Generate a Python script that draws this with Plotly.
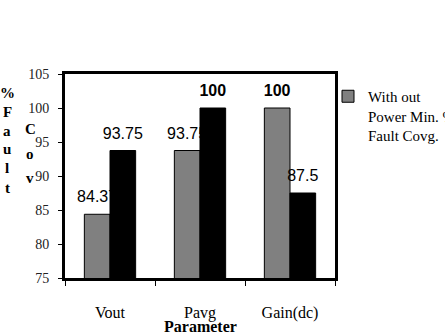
import plotly.graph_objects as go

categories = ["Vout", "Pavg", "Gain(dc)"]
without_pm = [84.37, 93.75, 100]
with_pm = [93.75, 100, 87.5]
series_names = ["With out<br>Power Min. %<br>Fault Covg.", "With Power Min. % Fault Covg."]
y_ticks = [75, 80, 85, 90, 95, 100, 105]

L, R, T, B = 65, 110, 74, 56
W, H = 445, 334
PW, PH = W - L - R, H - T - B

def px_x(px):
    return (px - L) / PW

def px_y(py):
    return (H - B - py) / PH

def lab(v):
    s = f"{v:g}"
    if v == 100:
        s = f"<b>{s}</b>"
    return f"<span style='font-size:16px'>{s}</span><br> "

fig = go.Figure()
fig.add_trace(go.Bar(
    x=categories, y=without_pm, name=series_names[0],
    marker=dict(color="#808080", line=dict(color="#000000", width=1)),
    text=[lab(v) for v in without_pm], textposition="outside",
    constraintext="none", cliponaxis=False,
    textfont=dict(family="Liberation Sans", size=6, color="#000"),
))
fig.add_trace(go.Bar(
    x=categories, y=with_pm, name=series_names[1], showlegend=False,
    marker=dict(color="#000000", line=dict(color="#000000", width=1)),
    text=[lab(v) for v in with_pm], textposition="outside",
    constraintext="none", cliponaxis=False,
    textfont=dict(family="Liberation Sans", size=6, color="#000"),
))

annotations = []
col1 = [("%", 93), ("F", 112), ("a", 131), ("u", 149), ("l", 168), ("t", 188)]
for ch, py in col1:
    annotations.append(dict(text=ch, x=px_x(7), y=px_y(py), xref="paper", yref="paper",
                            showarrow=False, xanchor="center", yanchor="middle",
                            font=dict(family="Liberation Serif", size=15, color="#000"),
                            ))
col2 = [("C", 129), ("o", 154), ("v", 178)]
for ch, py in col2:
    annotations.append(dict(text=ch, x=px_x(30), y=px_y(py), xref="paper", yref="paper",
                            showarrow=False, xanchor="center", yanchor="middle",
                            font=dict(family="Liberation Serif", size=15, color="#000"),
                            ))
for a in annotations:
    a["text"] = f"<b>{a['text']}</b>"
annotations.append(dict(text="<b>Parameter</b>", x=0.5, y=px_y(326), xref="paper", yref="paper",
                        showarrow=False, xanchor="center", yanchor="middle",
                        font=dict(family="Liberation Serif", size=16, color="#000")))

fig.update_layout(
    width=W, height=H,
    margin=dict(l=L, r=R, t=T, b=B, pad=0, autoexpand=False),
    paper_bgcolor="white", plot_bgcolor="white",
    barmode="group", bargap=0.43, bargroupgap=0,
    showlegend=True,
    legend=dict(x=px_x(328), y=px_y(80), xanchor="left", yanchor="top",
                bgcolor="rgba(0,0,0,0)", itemwidth=30, valign="top",
                font=dict(family="Liberation Serif", size=15, color="#000"),
                tracegroupgap=0),
    annotations=annotations,
    font=dict(family="Liberation Serif", size=14, color="#000"),
)
fig.update_yaxes(range=[75, 105], tickvals=y_ticks, ticks="outside", ticklen=4,
                 tickcolor="#000", showgrid=False, zeroline=False,
                 showline=True, linecolor="#000", linewidth=3, mirror=True,
                 ticklabelstandoff=6,
                 tickfont=dict(family="Liberation Serif", size=14, color="#222"))
fig.update_xaxes(ticks="outside", tickson="boundaries", ticklen=5, tickcolor="#000",
                 showgrid=False, showline=True, linecolor="#000", linewidth=3, mirror=True,
                 ticklabelstandoff=18,
                 tickfont=dict(family="Liberation Serif", size=16, color="#000"))

fig.write_html("out.html")
